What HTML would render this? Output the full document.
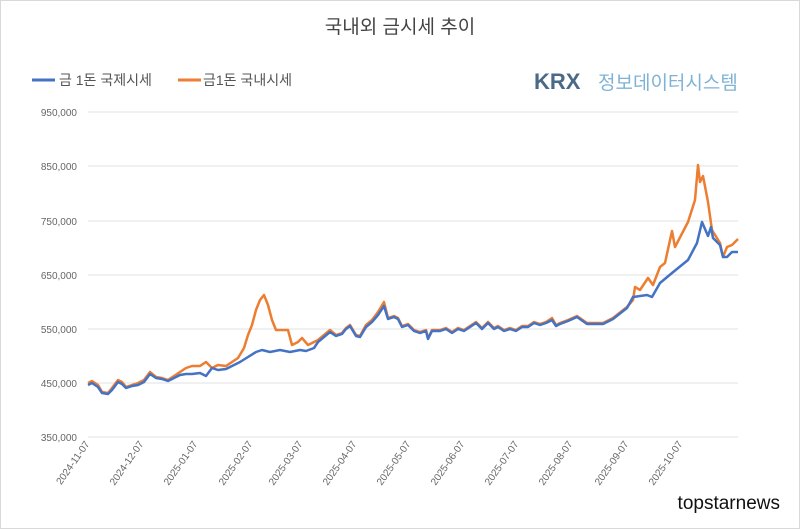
<!DOCTYPE html>
<html><head><meta charset="utf-8"><style>
body{margin:0;background:#fff;}
svg{display:block;font-family:"Liberation Sans","Noto Sans CJK KR",sans-serif;}
</style></head><body>
<svg width="800" height="529" viewBox="0 0 800 529">
<rect x="0.5" y="0.5" width="799" height="528" fill="#fff" stroke="#d9d9d9"/>
<text x="400" y="33" text-anchor="middle" font-size="19" fill="#444">국내외 금시세 추이</text>
<line x1="32" y1="80" x2="55" y2="80" stroke="#4472c4" stroke-width="3"/>
<text x="59" y="85" font-size="14" fill="#555">금 1돈 국제시세</text>
<line x1="178" y1="80" x2="201" y2="80" stroke="#ed7d31" stroke-width="3"/>
<text x="203" y="85" font-size="14" fill="#555">금1돈 국내시세</text>
<text x="534" y="89" font-size="22" font-weight="bold" fill="#4b6a86">KRX</text>
<text x="598" y="89" font-size="19" fill="#7fb3d5">정보데이터시스템</text>
<g stroke="#e0e0e0" stroke-width="1">
<line x1="88" y1="112" x2="738" y2="112"/><line x1="88" y1="166" x2="738" y2="166"/>
<line x1="88" y1="221" x2="738" y2="221"/><line x1="88" y1="275" x2="738" y2="275"/>
<line x1="88" y1="329" x2="738" y2="329"/><line x1="88" y1="383" x2="738" y2="383"/>
<line x1="88" y1="437" x2="738" y2="437"/></g>
<g font-size="10" fill="#666" text-anchor="end">
<text x="77" y="116">950,000</text><text x="77" y="170">850,000</text><text x="77" y="225">750,000</text>
<text x="77" y="279">650,000</text><text x="77" y="333">550,000</text><text x="77" y="387">450,000</text>
<text x="77" y="441">350,000</text></g>
<g font-size="10" fill="#666" text-anchor="end">
<text transform="translate(90,444) rotate(-55)">2024-11-07</text>
<text transform="translate(144,444) rotate(-55)">2024-12-07</text>
<text transform="translate(198,444) rotate(-55)">2025-01-07</text>
<text transform="translate(253,444) rotate(-55)">2025-02-07</text>
<text transform="translate(303,444) rotate(-55)">2025-03-07</text>
<text transform="translate(357,444) rotate(-55)">2025-04-07</text>
<text transform="translate(411,444) rotate(-55)">2025-05-07</text>
<text transform="translate(465,444) rotate(-55)">2025-06-07</text>
<text transform="translate(519,444) rotate(-55)">2025-07-07</text>
<text transform="translate(573,444) rotate(-55)">2025-08-07</text>
<text transform="translate(629,444) rotate(-55)">2025-09-07</text>
<text transform="translate(683,444) rotate(-55)">2025-10-07</text>
</g>
<polyline fill="none" stroke="#ed7d31" stroke-width="2.5" stroke-linejoin="round" points="88,383 92,381 98,385 102,392 108,393 112,388 118,380 122,382 126,387 132,385 138,383 144,380 150,372 156,377 162,378 168,380 174,376 180,372 186,368 192,366 200,366 206,362 212,368 218,365 226,366 232,362 238,358 244,348 248,335 252,325 256,310 260,300 264,295 268,305 272,320 276,330 282,330 288,330 292,345 298,342 302,338 308,345 314,342 318,340 324,335 330,330 336,335 342,333 346,328 350,325 356,335 360,336 366,325 372,320 378,312 384,302 388,318 394,316 398,318 402,326 408,324 414,330 420,332 426,330 428,338 432,330 440,330 446,328 452,332 458,328 464,330 470,326 476,322 482,328 488,322 494,328 498,326 504,330 510,328 516,330 522,326 528,326 534,322 540,324 546,322 552,318 556,325 560,323 568,320 577,316 587,323 603,323 613,318 627,307 633,300 635,287 640,290 648,278 653,285 660,267 665,263 672,231 675,247 688,222 695,200 698,165 700,182 703,176 708,202 712,230 720,243 723,257 727,247 732,245 738,239"/>
<polyline fill="none" stroke="#4472c4" stroke-width="2.5" stroke-linejoin="round" points="88,385 92,383 98,387 102,393 108,394 112,390 118,382 122,384 126,388 132,386 138,385 144,382 150,374 156,378 162,379 168,381 174,378 180,375 186,374 192,374 200,373 206,376 212,368 218,370 226,369 232,366 240,362 248,357 256,352 262,350 270,352 280,350 290,352 300,350 306,351 314,348 318,342 324,337 330,332 336,336 342,334 346,329 350,326 356,336 360,337 366,327 372,322 378,315 384,306 388,319 394,317 398,319 402,327 408,325 414,331 420,333 426,331 428,339 432,331 440,331 446,329 452,333 458,329 464,331 470,327 476,323 482,329 488,323 494,329 498,327 504,331 510,329 516,331 522,327 528,327 534,323 540,325 546,323 552,320 556,326 560,324 568,321 577,317 587,324 603,324 613,319 627,308 633,297 647,295 652,297 660,283 672,273 688,260 697,243 702,222 708,236 711,227 713,238 720,245 723,257 727,257 732,252 738,252"/>
<text x="780" y="509" text-anchor="end" font-size="19" fill="#111">topstarnews</text>
</svg>
</body></html>
